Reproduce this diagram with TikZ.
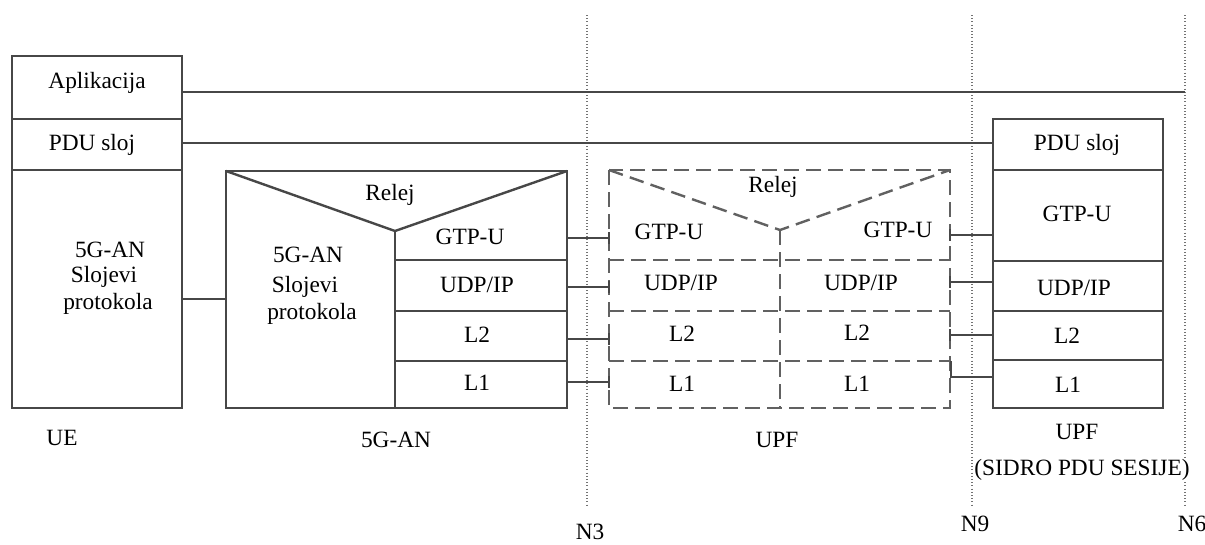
\documentclass[tikz,border=0pt]{standalone}
\usepackage{fontspec}
\setmainfont{Liberation Serif}
\usetikzlibrary{calc}
\begin{document}
\begin{tikzpicture}[x=0.75pt,y=-0.75pt,
  box/.style={draw=black!72,line width=1.8pt},
  ln/.style={draw=black!72,line width=1.8pt},
  dsh/.style={draw=black!62,line width=1.8pt,dash pattern=on 11pt off 5.5pt},
  ref/.style={draw=black!55,line width=1pt,dash pattern=on 0.8pt off 1.6pt},
  lbl/.style={inner sep=0pt,font=\fontsize{17.5}{20}\selectfont,text=black}]
\useasboundingbox (0,0) rectangle (1205,544);
\clip (0,0) rectangle (1205,544);
% reference lines
\draw[ref] (587,15) -- (587,505);
\draw[ref] (972,15) -- (972,505);
\draw[ref] (1185,15) -- (1185,505);
% UE
\draw[box] (12,56) rectangle (182,408);
\draw[ln] (12,119) -- (182,119);
\draw[ln] (12,170) -- (182,170);
\node[lbl] (app) at (97,83) {Aplikacija};
\node[lbl] (pdu1) at (92,145) {PDU sloj};
\node[lbl] (ueA) at (110,250) {5G-AN};
\node[lbl] (ueB) at (104,277) {Slojevi};
\node[lbl] (ueC) at (108,304) {protokola};
% 5G-AN
\draw[box] (226,171) rectangle (567,408);
\draw[ln] (226,171) -- (395,231) -- (567,171);
\draw[ln] (395,231) -- (395,408);
\draw[ln] (395,260) -- (567,260);
\draw[ln] (395,311) -- (567,311);
\draw[ln] (395,361) -- (567,361);
\node[lbl] (relA) at (390,195) {Relej};
\node[lbl] (anA) at (308,255) {5G-AN};
\node[lbl] (anB) at (305,287) {Slojevi};
\node[lbl] (anC) at (312,314) {protokola};
\node[lbl] (g1) at (470,237) {GTP-U};
\node[lbl] (u1) at (477,285) {UDP/IP};
\node[lbl] (l21) at (477,335) {L2};
\node[lbl] (l11) at (477,383) {L1};
% UPF (dashed)
\draw[dsh] (609,170) rectangle (950,408);
\draw[dsh] (609,170) -- (780,230) -- (950,170);
\draw[dsh] (780,230) -- (780,408);
\draw[dsh] (609,260) -- (950,260);
\draw[dsh] (609,311) -- (950,311);
\draw[dsh] (609,361) -- (950,361);
\node[lbl] (relB) at (773,187) {Relej};
\node[lbl] (g2) at (669,232) {GTP-U};
\node[lbl] (g3) at (898,230) {GTP-U};
\node[lbl] (u2) at (681,283) {UDP/IP};
\node[lbl] (u3) at (861,283) {UDP/IP};
\node[lbl] (l22) at (682,334) {L2};
\node[lbl] (l23) at (857,333) {L2};
\node[lbl] (l12) at (682,384) {L1};
\node[lbl] (l13) at (857,384) {L1};
% UPF anchor
\draw[box] (993,119) rectangle (1163,408);
\draw[ln] (993,170) -- (1163,170);
\draw[ln] (993,261) -- (1163,261);
\draw[ln] (993,311) -- (1163,311);
\draw[ln] (993,360) -- (1163,360);
\node[lbl] (pdu2) at (1077,145) {PDU sloj};
\node[lbl] (g4) at (1077,214) {GTP-U};
\node[lbl] (u4) at (1074,288) {UDP/IP};
\node[lbl] (l24) at (1067,336) {L2};
\node[lbl] (l14) at (1068,385) {L1};
% connector end points
\coordinate (appR) at (182,92);
\coordinate (appE) at (1185,92);
\coordinate (pduR) at (182,143);
\coordinate (pduE) at (993,143);
\coordinate (ueR) at (182,299);
\coordinate (anL) at (226,299);
\foreach \y/\n in {238/a,287/b,339/c,382/d}{
  \coordinate (n3l\n) at (567,\y);
  \coordinate (n3r\n) at (609,\y);
}
\foreach \y/\n in {235/a,282/b,335/c}{
  \coordinate (n9l\n) at (950,\y);
  \coordinate (n9r\n) at (993,\y);
}
\coordinate (n9ld) at (951,361);
\coordinate (n9rd) at (993,377);
\draw[ln] (appR) -- (appE);
\draw[ln] (pduR) -- (pduE);
\draw[ln] (ueR) -- (anL);
\foreach \n in {a,b,c,d}{
  \draw[ln] (n3l\n) -- (n3r\n);
  \draw[ln] ($(n3r\n)+(0,-6)$) -- ($(n3r\n)+(0,6)$);
}
\foreach \n in {a,b,c}{
  \draw[ln] (n9l\n) -- (n9r\n);
  \draw[ln] ($(n9l\n)+(0,-6)$) -- ($(n9l\n)+(0,6)$);
}
\draw[ln] (n9ld) |- (n9rd);
% bottom labels
\node[lbl] (ue) at (62,438) {UE};
\node[lbl] (an) at (396,440) {5G-AN};
\node[lbl] (upf) at (777,440) {UPF};
\node[lbl] (upf2) at (1077,432) {UPF};
\node[lbl,fill=white,inner xsep=1pt] (sidro) at (1082,470) {(SIDRO PDU SESIJE)};
\node[lbl] (n3) at (590,532) {N3};
\node[lbl] (n9) at (975,524) {N9};
\node[lbl] (n6) at (1192,524) {N6};
\end{tikzpicture}
\end{document}
